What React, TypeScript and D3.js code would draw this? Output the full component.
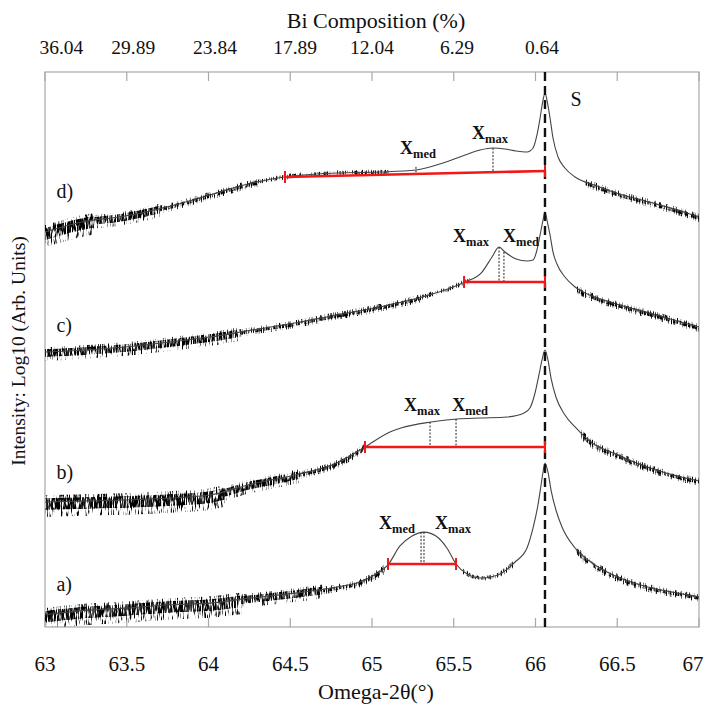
import React from 'react';
import * as d3 from 'd3';

const W = 705;
const H = 707;
const PLOT = { left: 45, right: 699, top: 72, bottom: 627 };

// ---- axis data ----
const xTicks = [63, 63.5, 64, 64.5, 65, 65.5, 66, 66.5, 67];
const xTickLabels = ['63', '63.5', '64', '64.5', '65', '65.5', '66', '66.5', '67'];
const biLabels = ['36.04', '29.89', '23.84', '17.89', '12.04', '6.29', '0.64'];
const biLabelPos = [63.1, 63.54, 64.04, 64.53, 65.0, 65.52, 66.04];
const substratePeak = 66.058;

// ---- series: [omega-2theta, log10 intensity (offset, arb.)] ----
const seriesA: [number, number][] = [
  [63.0, 0.22], [63.214, 0.29], [63.489, 0.34], [63.765, 0.4], [64.009, 0.43], [64.254, 0.52],
  [64.529, 0.61], [64.786, 0.72], [64.927, 0.81], [65.018, 0.94], [65.098, 1.12], [65.171, 1.46],
  [65.245, 1.64], [65.318, 1.71], [65.391, 1.64], [65.459, 1.42], [65.514, 1.135], [65.581, 0.955],
  [65.667, 0.883], [65.771, 0.937], [65.875, 1.171], [65.948, 1.423], [65.985, 1.784], [66.015, 2.198],
  [66.034, 2.559], [66.046, 2.793], [66.058, 2.955], [66.076, 2.793], [66.095, 2.468], [66.125, 2.108],
  [66.162, 1.802], [66.242, 1.423], [66.346, 1.153], [66.474, 0.937], [66.602, 0.793], [66.737, 0.685],
  [66.865, 0.613], [67.0, 0.541],
];
const seriesB: [number, number][] = [
  [63.0, 2.252], [63.245, 2.27], [63.489, 2.288], [63.765, 2.324], [64.009, 2.378], [64.266, 2.577],
  [64.529, 2.739], [64.786, 2.955], [64.957, 3.243], [65.11, 3.514], [65.177, 3.586], [65.361, 3.694],
  [65.52, 3.748], [65.661, 3.766], [65.826, 3.784], [65.93, 3.856], [65.966, 3.946], [65.997, 4.216],
  [66.021, 4.541], [66.04, 4.811], [66.058, 4.991], [66.076, 4.811], [66.095, 4.486], [66.125, 4.144],
  [66.18, 3.82], [66.242, 3.604], [66.346, 3.315], [66.474, 3.135], [66.602, 2.973], [66.737, 2.829],
  [66.865, 2.721], [67.0, 2.631],
];
const seriesC: [number, number][] = [
  [63.0, 4.955], [63.245, 4.991], [63.489, 5.045], [63.765, 5.135], [64.009, 5.225], [64.266, 5.351],
  [64.529, 5.477], [64.786, 5.622], [65.049, 5.766], [65.306, 5.946], [65.446, 6.072], [65.569, 6.216],
  [65.673, 6.396], [65.734, 6.667], [65.777, 6.847], [65.813, 6.757], [65.881, 6.631], [65.948, 6.595],
  [65.985, 6.613], [66.009, 6.793], [66.028, 7.063], [66.046, 7.333], [66.058, 7.477], [66.07, 7.333],
  [66.089, 7.063], [66.107, 6.757], [66.131, 6.541], [66.18, 6.306], [66.242, 6.126], [66.346, 5.964],
  [66.474, 5.838], [66.602, 5.73], [66.737, 5.622], [66.865, 5.514], [67.0, 5.405],
];
const seriesD: [number, number][] = [
  [63.0, 7.117], [63.226, 7.297], [63.489, 7.405], [63.746, 7.568], [64.009, 7.784], [64.217, 7.964],
  [64.462, 8.108], [64.786, 8.18], [65.049, 8.198], [65.269, 8.234], [65.434, 8.36], [65.569, 8.505],
  [65.661, 8.595], [65.74, 8.631], [65.813, 8.613], [65.881, 8.577], [65.948, 8.559], [65.985, 8.631],
  [66.009, 8.865], [66.028, 9.171], [66.046, 9.495], [66.058, 9.622], [66.07, 9.495], [66.089, 9.171],
  [66.107, 8.811], [66.138, 8.468], [66.18, 8.27], [66.242, 8.108], [66.376, 7.946], [66.474, 7.838],
  [66.578, 7.748], [66.737, 7.622], [66.865, 7.514], [67.0, 7.387],
];

// noise zones (omega ranges) per series and their level name
const noiseA: [number, number, string][] = [[63, 64.2, 'high'], [64.2, 64.7, 'medhigh'], [64.7, 65.08, 'mid'], [65.55, 65.87, 'low'], [66.25, 67, 'mid']];
const noiseB: [number, number, string][] = [[63, 64.1, 'high'], [64.1, 64.55, 'medhigh'], [64.55, 64.95, 'mid'], [66.28, 67, 'mid']];
const noiseC: [number, number, string][] = [[63, 64.2, 'medhigh'], [64.2, 65.3, 'mid'], [65.3, 65.6, 'low'], [66.25, 67, 'mid']];
const noiseD: [number, number, string][] = [[63, 63.3, 'high'], [63.3, 63.7, 'medhigh'], [63.7, 64.3, 'mid'], [64.3, 65.1, 'low'], [66.3, 67, 'mid']];

// red range bars: [x0, x1, y0, y1]
const barA = [65.098, 65.514, 1.135, 1.135];
const barB = [64.957, 66.058, 3.243, 3.243];
const barC = [65.563, 66.058, 6.216, 6.216];
const barD = [64.468, 66.058, 8.108, 8.216];

// marker lines: [x, yTop, yBottom]
const markersA = [[65.3, 1.71, 1.135], [65.318, 1.71, 1.135]];
const markersB = [[65.355, 3.694, 3.243], [65.514, 3.748, 3.243]];
const markersC = [[65.777, 6.847, 6.216], [65.807, 6.757, 6.216]];
const markersD = [[65.74, 8.631, 8.2], [65.269, 8.29, 8.19]];

// X labels: [x, y, subscript]
const xLabelsA: [number, number, string][] = [[65.153, 1.766, 'med'], [65.495, 1.766, 'max']];
const xLabelsB: [number, number, string][] = [[65.306, 3.892, 'max'], [65.6, 3.892, 'med']];
const xLabelsC: [number, number, string][] = [[65.606, 6.937, 'max'], [65.911, 6.937, 'med']];
const xLabelsD: [number, number, string][] = [[65.722, 8.793, 'max'], [65.281, 8.523, 'med']];

const seriesNames = ['a)', 'b)', 'c)', 'd)'];
const seriesNamePos: [number, number][] = [[63.07, 0.65], [63.07, 2.667], [63.07, 5.315], [63.07, 7.73]];

const levels: Record<string, { r: number; dy: number; sparse: number; dense: number }> = {
  high: { r: 10, dy: 4, sparse: -2.6, dense: -1.6 },
  medhigh: { r: 6, dy: 2, sparse: -2.7, dense: -1.7 },
  mid: { r: 3, dy: 1, sparse: -2.6, dense: -1.8 },
  low: { r: 2, dy: 0, sparse: -3.0, dense: -2.2 },
};

const FONT = "'Liberation Serif', Tinos, 'DejaVu Serif', serif";

export default function App() {
  const x = d3.scaleLinear().domain([63, 67]).range([PLOT.left, PLOT.right]);
  const y = d3.scaleLinear().domain([0, 10]).range([PLOT.bottom, PLOT.top]);
  const line = d3.line<[number, number]>().x((d) => x(d[0])).y((d) => y(d[1])).curve(d3.curveMonotoneX);

  const curves = [
    { id: 'a', data: seriesA, noise: noiseA, bar: barA, markers: markersA, labels: xLabelsA },
    { id: 'b', data: seriesB, noise: noiseB, bar: barB, markers: markersB, labels: xLabelsB },
    { id: 'c', data: seriesC, noise: noiseC, bar: barC, markers: markersC, labels: xLabelsC },
    { id: 'd', data: seriesD, noise: noiseD, bar: barD, markers: markersD, labels: xLabelsD },
  ];

  const txt = { fontFamily: FONT, fill: '#111' } as React.CSSProperties;

  return (
    <svg width={W} height={H} style={{ display: 'block', position: 'absolute', left: 0, top: 0, background: '#fff', fontFamily: FONT }}>
      <defs>
        {Object.entries(levels).map(([name, lv]) => (
          <filter key={name} id={`noise-${name}`} filterUnits="userSpaceOnUse" x={0} y={0} width={W} height={H}
            colorInterpolationFilters="sRGB">
            <feMorphology in="SourceGraphic" operator="dilate" radius={`1 ${lv.r}`} result="outer0" />
            <feOffset in="outer0" dy={lv.dy} result="outer" />
            <feMorphology in="SourceGraphic" operator="dilate" radius={`1 ${Math.max(1, Math.round(lv.r / 2.2))}`} result="inner0" />
            <feOffset in="inner0" dy={Math.round(lv.dy / 2)} result="inner" />
            <feTurbulence type="fractalNoise" baseFrequency="0.8 0.1" numOctaves={2} seed={name.length * 7} result="turb" />
            <feColorMatrix in="turb" type="matrix"
              values={`0 0 0 0 0  0 0 0 0 0  0 0 0 0 0  5 0 0 0 ${lv.sparse}`} result="maskSparse" />
            <feColorMatrix in="turb" type="matrix"
              values={`0 0 0 0 0  0 0 0 0 0  0 0 0 0 0  5 0 0 0 ${lv.dense}`} result="maskDense" />
            <feComposite in="outer" in2="maskSparse" operator="in" result="h1" />
            <feComposite in="inner" in2="maskDense" operator="in" result="h2" />
            <feMerge>
              <feMergeNode in="h1" />
              <feMergeNode in="h2" />
            </feMerge>
          </filter>
        ))}
        {curves.map((c) =>
          c.noise.map((z, i) => (
            <clipPath key={`${c.id}-${i}`} id={`clip-${c.id}-${i}`}>
              <rect x={x(z[0])} y={0} width={x(z[1]) - x(z[0])} height={H} />
            </clipPath>
          ))
        )}
        <clipPath id="plotClip">
          <rect x={PLOT.left} y={PLOT.top} width={PLOT.right - PLOT.left} height={PLOT.bottom - PLOT.top} />
        </clipPath>
      </defs>

      {/* frame */}
      <rect x={PLOT.left} y={PLOT.top} width={PLOT.right - PLOT.left} height={PLOT.bottom - PLOT.top}
        fill="none" stroke="#a8a8a8" strokeWidth={1.2} />
      {xTicks.map((t) => (
        <g key={t}>
          <line x1={x(t)} x2={x(t)} y1={PLOT.top} y2={PLOT.top + 9} stroke="#a8a8a8" strokeWidth={1.2} />
          <line x1={x(t)} x2={x(t)} y1={PLOT.bottom} y2={PLOT.bottom - 9} stroke="#a8a8a8" strokeWidth={1.2} />
        </g>
      ))}

      {/* curves */}
      <g clipPath="url(#plotClip)">
        {curves.map((c) => (
          <g key={c.id}>
            {c.noise.map((z, i) => (
              <g key={i} clipPath={`url(#clip-${c.id}-${i})`}>
                <path d={line(c.data) || ''} fill="none" stroke="#000" strokeWidth={1.3}
                  filter={`url(#noise-${z[2]})`} />
              </g>
            ))}
            <path d={line(c.data) || ''} fill="none" stroke="#444" strokeWidth={1.1} />
          </g>
        ))}
      </g>

      {/* substrate dashed line */}
      <line x1={x(substratePeak)} x2={x(substratePeak)} y1={PLOT.top} y2={PLOT.bottom}
        stroke="#111" strokeWidth={2.4} strokeDasharray="9 5" />

      {/* red bars, markers, labels */}
      {curves.map((c) => (
        <g key={`ann-${c.id}`}>
          {c.markers.map((m, i) => (
            <line key={i} x1={x(m[0])} x2={x(m[0])} y1={y(m[1])} y2={y(m[2])}
              stroke="#222" strokeWidth={1} strokeDasharray="2 1.5" />
          ))}
          <line x1={x(c.bar[0])} x2={x(c.bar[1])} y1={y(c.bar[2])} y2={y(c.bar[3])} stroke="#f01818" strokeWidth={2.6} />
          <line x1={x(c.bar[0])} x2={x(c.bar[0])} y1={y(c.bar[2]) - 6} y2={y(c.bar[2]) + 6} stroke="#f01818" strokeWidth={2} />
          <line x1={x(c.bar[1])} x2={x(c.bar[1])} y1={y(c.bar[3]) - 6} y2={y(c.bar[3]) + 6} stroke="#f01818" strokeWidth={2} />
          {c.labels.map((l, i) => (
            <text key={i} x={x(l[0])} y={y(l[1])} textAnchor="middle" style={txt} fontWeight="bold" fontSize={18}>
              X<tspan fontSize={12.5} dy={4}>{l[2]}</tspan>
            </text>
          ))}
        </g>
      ))}

      {seriesNames.map((n, i) => (
        <text key={n} x={x(seriesNamePos[i][0])} y={y(seriesNamePos[i][1])} style={txt} fontSize={20}>
          {n}
        </text>
      ))}
      <text x={x(66.248)} y={y(9.387)} textAnchor="middle" style={txt} fontSize={20}>S</text>

      {/* axes text */}
      {xTicks.map((t, i) => (
        <text key={t} x={Math.min(x(t), W - 12)} y={671} textAnchor="middle" style={txt} fontSize={21}>
          {xTickLabels[i]}
        </text>
      ))}
      <text x={376} y={699} textAnchor="middle" style={txt} fontSize={22}>Omega-2θ(°)</text>
      {biLabels.map((b, i) => (
        <text key={b} x={x(biLabelPos[i])} y={54} textAnchor="middle" style={txt} fontSize={19.5}>
          {b}
        </text>
      ))}
      <text x={376} y={28} textAnchor="middle" style={txt} fontSize={22}>Bi Composition (%)</text>
      <text transform="translate(25,351) rotate(-90)" textAnchor="middle" style={txt} fontSize={19.5}>
        Intensity: Log10 (Arb. Units)
      </text>
    </svg>
  );
}
